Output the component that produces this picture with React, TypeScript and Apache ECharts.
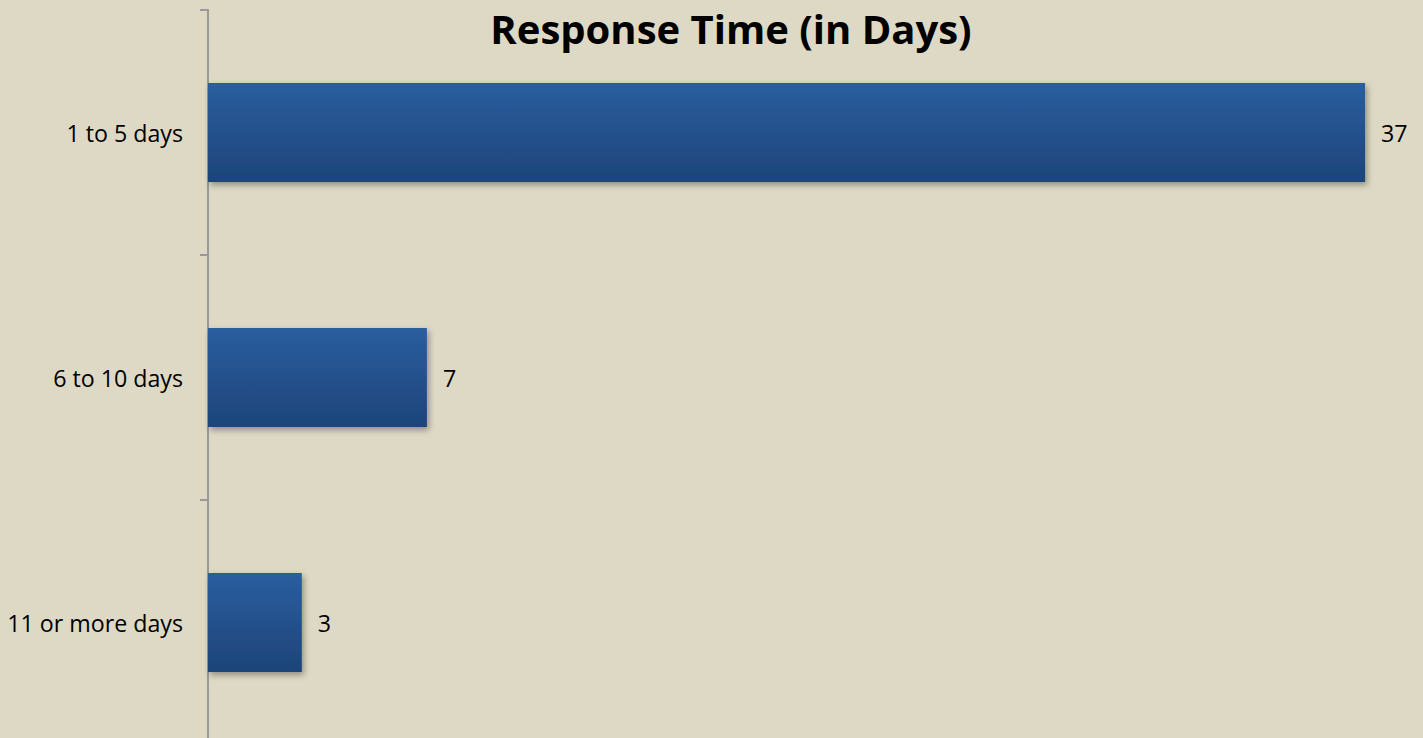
import React, { useEffect, useRef } from "react";
import * as echarts from "echarts";

const categories = ["1 to 5 days", "6 to 10 days", "11 or more days"];
const values = [37, 7, 3];
const titleText = "Response Time (in Days)";

export default function App() {
  const ref = useRef<HTMLDivElement>(null);
  useEffect(() => {
    if (!ref.current) return;
    const chart = echarts.init(ref.current, null, { renderer: "svg" });
    chart.setOption({
      animation: false,
      backgroundColor: "#DED9C4",
      title: {
        text: titleText,
        left: 726,
        textAlign: "center",
        top: 3,
        textStyle: {
          fontFamily: "Open Sans",
          fontWeight: "bold",
          fontSize: 40,
          color: "#000",
        },
      },
      grid: { left: 208, right: 11, top: 10, bottom: 0, containLabel: false },
      xAxis: {
        type: "value",
        min: 0,
        max: 38.5,
        show: false,
        splitLine: { show: false },
      },
      yAxis: {
        type: "category",
        data: categories,
        inverse: true,
        axisLine: { show: true, lineStyle: { color: "#999999", width: 2 } },
        axisTick: { show: true, length: 8, lineStyle: { color: "#999999", width: 2 } },
        axisLabel: {
          margin: 25,
          fontFamily: "Open Sans",
          fontSize: 23.2,
          color: "#000",
        },
      },
      series: [
        {
          type: "bar",
          data: values,
          barWidth: "40.5%",
          itemStyle: {
            color: new echarts.graphic.LinearGradient(0, 0, 0, 1, [
              { offset: 0, color: "#2A5E9F" },
              { offset: 1, color: "#1D4479" },
            ]),
            shadowColor: "rgba(0,0,0,0.35)",
            shadowBlur: 6,
            shadowOffsetX: 2,
            shadowOffsetY: 3,
          },
          label: {
            show: true,
            position: "right",
            distance: 16,
            fontFamily: "Open Sans",
            fontSize: 23.2,
            color: "#000",
          },
        },
      ],
    });
    return () => chart.dispose();
  }, []);
  return (
    <div style={{ position: "absolute", left: 0, top: 0, width: 1423, height: 738, overflow: "hidden" }}>
      <div ref={ref} style={{ width: 1423, height: 745 }} />
    </div>
  );
}
